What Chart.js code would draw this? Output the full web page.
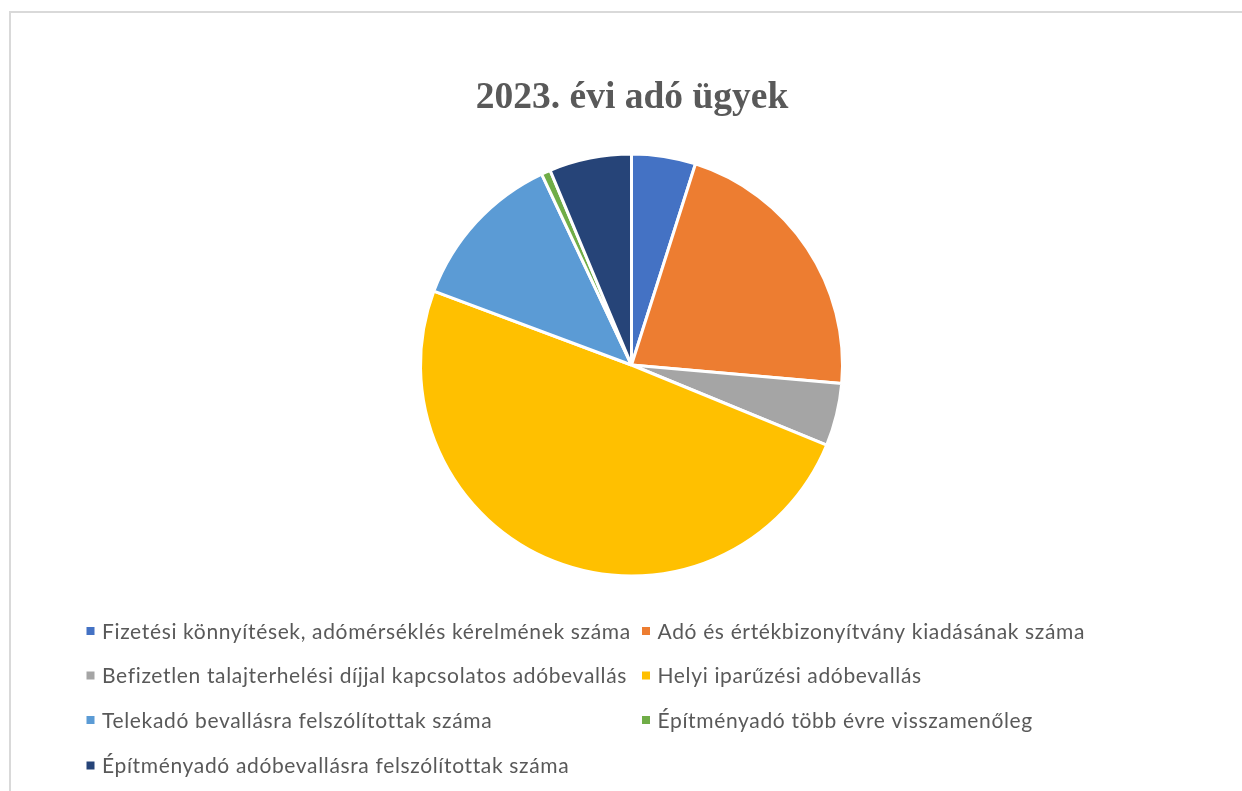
<!DOCTYPE html>
<html>
<head>
<meta charset="utf-8">
<script src="https://cdn.jsdelivr.net/npm/chart.js@4.4.0/dist/chart.umd.min.js"></script>
<style>
  html, body { margin: 0; padding: 0; background: #fff; overflow: hidden; }
  #wrap { position: relative; width: 1242px; height: 791px; }
  #frame { position: absolute; left: 9px; top: 11px; width: 1300px; height: 900px; border: 2px solid #d9d9d9; box-sizing: border-box; }
  canvas { position: absolute; left: 0; top: 0; }
</style>
</head>
<body>
<div id="wrap">
  <div id="frame"></div>
  <canvas id="c" width="1242" height="791"></canvas>
</div>
<script>
const chartTitle = "2023. évi adó ügyek";
const categories = [
  "Fizetési könnyítések, adómérséklés kérelmének száma",
  "Adó és értékbizonyítvány kiadásának száma",
  "Befizetlen talajterhelési díjjal kapcsolatos adóbevallás",
  "Helyi iparűzési adóbevallás",
  "Telekadó bevallásra felszólítottak száma",
  "Építményadó több évre visszamenőleg",
  "Építményadó adóbevallásra felszólítottak száma"
];
const values = [49, 215, 48, 495, 123, 7, 63];
const colors = ["#4472C4", "#ED7D31", "#A5A5A5", "#FFC000", "#5B9BD5", "#70AD47", "#264478"];

const overlay = {
  id: 'overlay',
  afterDraw(chart) {
    const ctx = chart.ctx;
    ctx.save();
    // title
    ctx.fillStyle = '#595959';
    ctx.font = 'bold 37.5px "Liberation Serif", "Times New Roman", serif';
    ctx.textAlign = 'center';
    ctx.textBaseline = 'alphabetic';
    ctx.fillText(chartTitle, 632, 108);
    // legend in two columns
    const labels = chart.data.labels;
    const bg = chart.data.datasets[0].backgroundColor;
    const colX = [86.5, 642];
    const rowY = [631, 675.5, 720, 765.5];
    ctx.font = '21px Lato, "Open Sans", sans-serif';
    if ('letterSpacing' in ctx) ctx.letterSpacing = '0.65px';
    ctx.textAlign = 'left';
    ctx.textBaseline = 'middle';
    labels.forEach((lab, i) => {
      const x = colX[i % 2];
      const y = rowY[Math.floor(i / 2)];
      ctx.fillStyle = bg[i];
      ctx.fillRect(x, y - 4, 8, 8);
      ctx.fillStyle = '#595959';
      ctx.fillText(lab, x + 15.5, y + 1);
    });
    ctx.restore();
  }
};

new Chart(document.getElementById('c'), {
  type: 'pie',
  data: {
    labels: categories,
    datasets: [{
      data: values,
      backgroundColor: colors,
      borderColor: '#ffffff',
      borderWidth: 3
    }]
  },
  options: {
    responsive: false,
    animation: false,
    layout: { padding: { left: 419, right: 398, top: 152.5, bottom: 213.5 } },
    plugins: {
      legend: { display: false },
      title: { display: false },
      tooltip: { enabled: false }
    }
  },
  plugins: [overlay]
});
</script>
</body>
</html>
